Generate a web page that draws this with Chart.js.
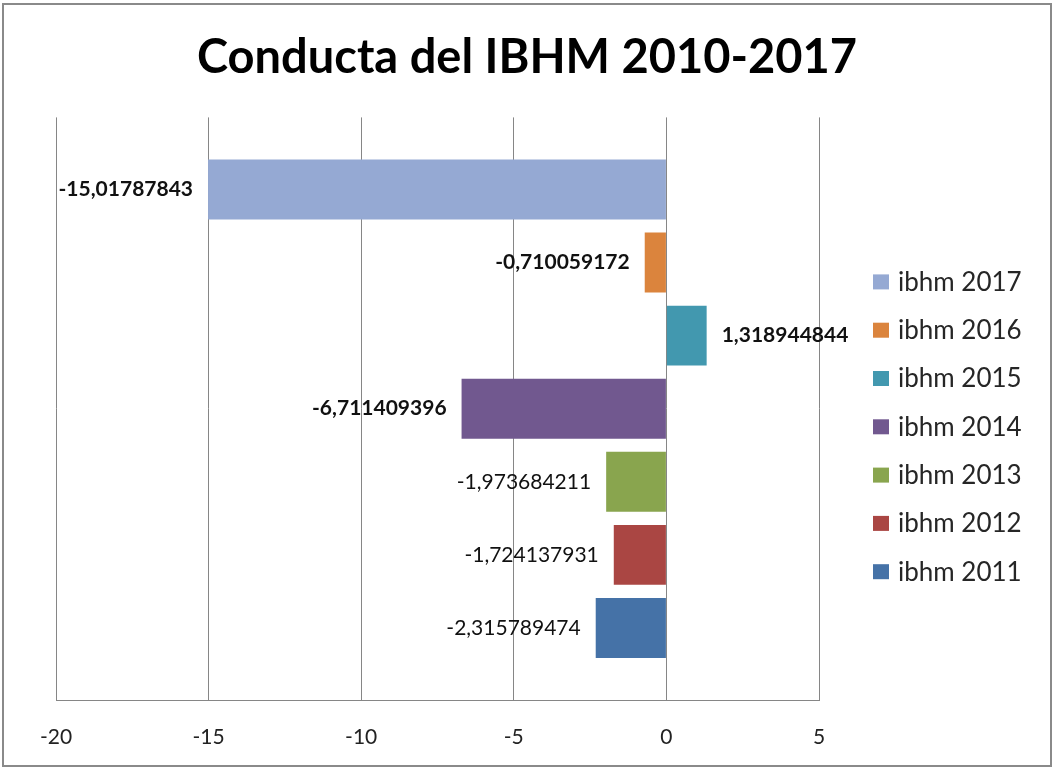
<!DOCTYPE html>
<html>
<head>
<meta charset="utf-8">
<title>Conducta del IBHM 2010-2017</title>
<script src="https://cdn.jsdelivr.net/npm/chart.js@4.4.0/dist/chart.umd.min.js"></script>
<style>
  body { margin: 0; background: #fff; }
  #canvas { display: block; }
</style>
</head>
<body>
<canvas id="canvas" width="1054" height="770"></canvas>
<script>
// series (one bar each), top to bottom
var seriesNames = ['ibhm 2017', 'ibhm 2016', 'ibhm 2015', 'ibhm 2014', 'ibhm 2013', 'ibhm 2012', 'ibhm 2011'];
var seriesValues = [-15.01787843, -0.710059172, 1.318944844, -6.711409396, -1.973684211, -1.724137931, -2.315789474];
var seriesColors = ['#95a9d3', '#db843d', '#4298af', '#71588f', '#89a54e', '#aa4643', '#4572a7'];
var labelWeights = ['bold', 'bold', 'bold', 'bold', 'normal', 'normal', 'normal'];
var xTicks = [-20, -15, -10, -5, 0, 5];

Chart.defaults.font.family = 'Lato, "Open Sans", sans-serif';
Chart.defaults.color = '#222';

var formatValue = function(v) {
	return String(v).replace('.', ',');
};

// marco gris alrededor de todo el grafico
var framePlugin = {
	id: 'frame',
	beforeDraw: function(chart) {
		var ctx = chart.ctx;
		ctx.save();
		ctx.fillStyle = '#fff';
		ctx.fillRect(0, 0, chart.width, chart.height);
		ctx.strokeStyle = '#8a8a8a';
		ctx.lineWidth = 2;
		ctx.strokeRect(3, 4, chart.width - 6, chart.height - 8);
		ctx.restore();
	}
};

// etiquetas con el valor al final de cada barra
var valueLabels = {
	id: 'valueLabels',
	afterDatasetsDraw: function(chart) {
		var ctx = chart.ctx;
		ctx.save();
		ctx.textBaseline = 'middle';
		ctx.fillStyle = '#111';
		chart.data.datasets.forEach(function(ds, i) {
			var bar = chart.getDatasetMeta(i).data[0];
			var v = ds.data[0];
			ctx.font = labelWeights[i] + ' 21px ' + Chart.defaults.font.family;
			if (v < 0) {
				ctx.textAlign = 'right';
				ctx.fillText(formatValue(v), bar.x - 15, bar.y);
			} else {
				ctx.textAlign = 'left';
				ctx.fillText(formatValue(v), bar.x + 15, bar.y);
			}
		});
		ctx.restore();
	}
};

// leyenda a la derecha del area de trazado
var sideLegend = {
	id: 'sideLegend',
	afterDraw: function(chart) {
		var ctx = chart.ctx;
		var area = chart.chartArea;
		var x = area.right + 54;
		var y = area.top + 165;
		ctx.save();
		ctx.font = '26px ' + Chart.defaults.font.family;
		ctx.textBaseline = 'middle';
		ctx.textAlign = 'left';
		chart.data.datasets.forEach(function(ds, i) {
			var cy = y + i * 48.3;
			ctx.fillStyle = ds.backgroundColor;
			ctx.fillRect(x, cy - 8, 16, 15);
			ctx.fillStyle = '#262626';
			ctx.fillText(ds.label, x + 25, cy);
		});
		ctx.restore();
	}
};

var datasets = seriesNames.map(function(name, i) {
	return {
		label: name,
		data: [seriesValues[i]],
		backgroundColor: seriesColors[i],
		borderWidth: 0,
		categoryPercentage: 0.878,
		barPercentage: 0.82
	};
});

var ctx = document.getElementById('canvas').getContext('2d');
window.ibhmChart = new Chart(ctx, {
	type: 'bar',
	data: {
		labels: ['IBHM'],
		datasets: datasets
	},
	plugins: [framePlugin, valueLabels, sideLegend],
	options: {
		indexAxis: 'y',
		responsive: false,
		animation: false,
		devicePixelRatio: 1,
		layout: {
			padding: { left: 56, right: 56, top: 0, bottom: 20 }
		},
		scales: {
			x: {
				min: xTicks[0],
				max: xTicks[xTicks.length - 1],
				afterBuildTicks: function(scale) {
					scale.ticks = xTicks.map(function(v) { return { value: v }; });
				},
				afterFit: function(scale) {
					scale.height = 50;
				},
				grid: { color: '#868686', drawTicks: false },
				border: { display: true, color: '#868686' },
				ticks: {
					padding: 25,
					font: { size: 21 },
					color: '#222'
				}
			},
			// eje de categorias oculto; solo reserva el hueco de la leyenda
			y: {
				position: 'right',
				grid: { display: false },
				border: { display: false },
				ticks: { display: false },
				afterFit: function(scale) {
					scale.width = 179;
				}
			}
		},
		plugins: {
			legend: { display: false },
			tooltip: { enabled: false },
			title: {
				display: true,
				text: 'Conducta del IBHM 2010-2017',
				color: '#000',
				font: { size: 47, weight: 'bold' },
				padding: { top: 30, bottom: 31 }
			}
		}
	}
});
</script>
</body>
</html>
